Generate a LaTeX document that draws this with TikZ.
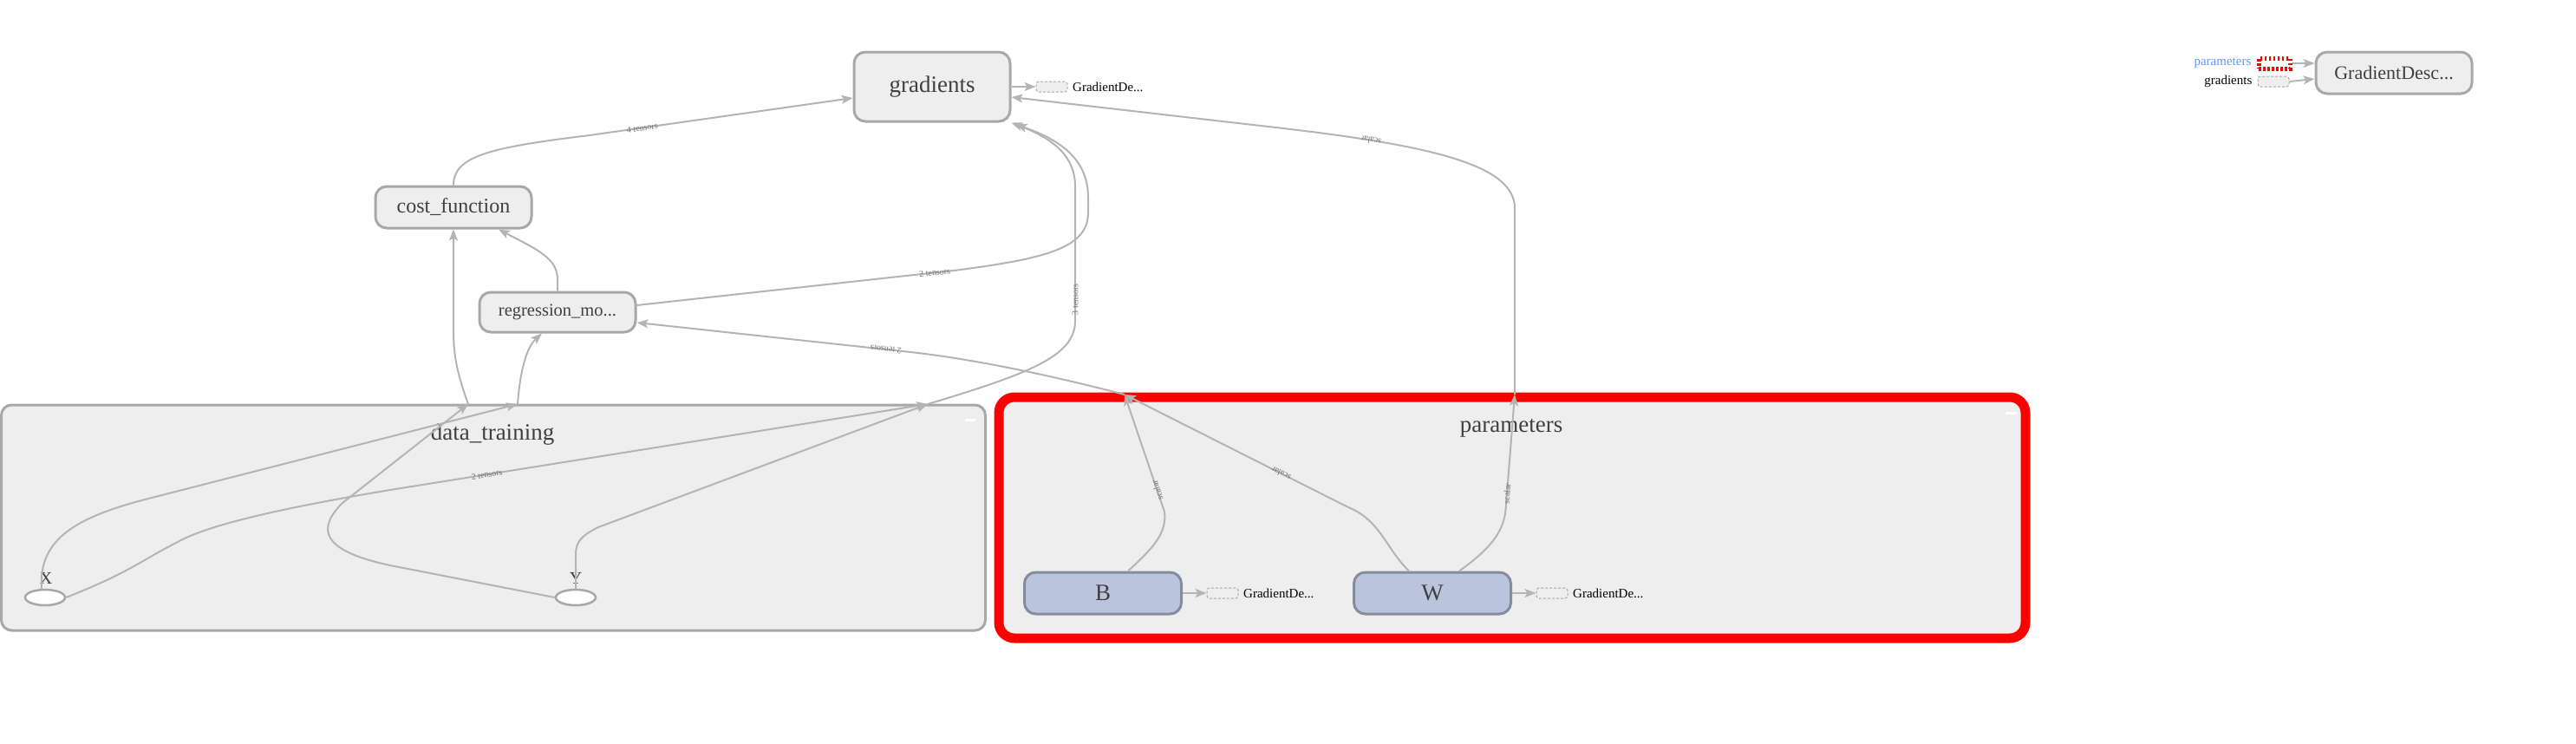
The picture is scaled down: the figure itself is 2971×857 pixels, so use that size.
\documentclass[tikz,border=0pt]{standalone}
\usepackage{fontspec}
\setmainfont{Liberation Serif}
\usetikzlibrary{arrows.meta,shapes.geometric}

\definecolor{edgegray}{HTML}{B4B4B4}
\definecolor{linegray}{HTML}{A8A8A8}
\definecolor{boxgray}{HTML}{EEEEEE}
\definecolor{txtgray}{HTML}{404040}
\definecolor{varfill}{HTML}{BAC5DD}
\definecolor{varline}{HTML}{858D9D}
\definecolor{parblue}{HTML}{6495ED}

\tikzset{
  op/.style={draw=linegray, line width=3pt, fill=boxgray, rounded corners=13pt, inner sep=0pt, text=txtgray},
  var/.style={op, draw=varline, fill=varfill},
  ph/.style={ellipse, draw=linegray, line width=2.5pt, fill=white, minimum width=46pt, minimum height=18pt, inner sep=0pt},
  aux/.style={draw=linegray, line width=1pt, dash pattern=on 3pt off 2pt, fill=boxgray, rounded corners=3pt, minimum width=36pt, minimum height=12pt, inner sep=0pt},
  auxlab/.style={anchor=west, inner sep=0pt, font=\fontsize{15}{15}\selectfont},
  grouplab/.style={anchor=base, inner sep=0pt, text=txtgray, font=\fontsize{27}{27}\selectfont},
  flow/.style={draw=edgegray, line width=2pt, -{Stealth[length=13pt,width=10pt,inset=3pt]}},
  tens/.style={font=\fontsize{10}{10}\selectfont, text=txtgray!75, sloped, allow upside down, inner sep=1pt},
}

\begin{document}
\begin{tikzpicture}[x=1pt,y=-1pt]
%\draw[help lines] (0,0) grid[step=100] (2971,857);
\useasboundingbox (0,0) rectangle (2971,857);

% groups
\node[draw=linegray, line width=3pt, fill=boxgray, rounded corners=12pt, minimum width=1135pt, minimum height=260pt] (dtrain) at (569,597) {};
\node[grouplab] (dtrainlab) at (568,507) {data\_training};
\draw[white, line width=3pt] (1113,484) -- (1125,484);

\node[draw=red, line width=11pt, fill=boxgray, rounded corners=18pt, minimum width=1184pt, minimum height=278pt] (params) at (1744,597) {};
\node[grouplab] (paramslab) at (1743,498) {parameters};
\draw[white, line width=3pt] (2313,476) -- (2326,476);

% ops
\node[op, minimum width=180pt, minimum height=80pt, font=\fontsize{27}{27}\selectfont] (gr) at (1075,100) {gradients};
\node[aux] (grout) at (1213,100) {};
\node[auxlab] (groutlab) at (1237,100) {GradientDe...};
\draw[flow] (gr.east) -- (grout.west);

\node[op, minimum width=180pt, minimum height=48pt, font=\fontsize{24}{24}\selectfont] (cost) at (523,239) {cost\_function};
\node[op, minimum width=180pt, minimum height=46pt, font=\fontsize{20.5}{20.5}\selectfont] (regr) at (643,360) {regression\_mo...};

\node[op, minimum width=180pt, minimum height=48pt, font=\fontsize{22}{22}\selectfont] (gd) at (2761,84) {GradientDesc...};
\node[aux, draw=red, line width=5pt, dash pattern=on 2.5pt off 2.5pt, fill=white, minimum width=36pt, minimum height=12pt, rounded corners=0pt] (gdpar) at (2623,73) {};
\node[anchor=east, inner sep=0pt, text=parblue, font=\fontsize{15}{15}\selectfont, xshift=-6pt] (gdparlab) at (gdpar.west) {parameters};
\node[aux] (gdgr) at (2622,94) {};
\node[anchor=east, inner sep=0pt, font=\fontsize{15}{15}\selectfont, xshift=-6pt] (gdgrlab) at (gdgr.west) {gradients};
\draw[flow] (gdpar.east) -- (gdpar.east -| gd.west);
\draw[flow] (gdgr.east) -- ([yshift=-7pt]gd.west);

% variables
\node[var, minimum width=181pt, minimum height=48pt, font=\fontsize{27}{27}\selectfont] (nb) at (1272,684) {B};
\node[aux] (nbout) at (1410,684) {};
\node[auxlab] (nboutlab) at (1434,684) {GradientDe...};
\draw[flow] (nb.east) -- (nbout.west);

\node[var, minimum width=181pt, minimum height=48pt, font=\fontsize{27}{27}\selectfont] (nw) at (1652,684) {W};
\node[aux] (nwout) at (1790,684) {};
\node[auxlab] (nwoutlab) at (1814,684) {GradientDe...};
\draw[flow] (nw.east) -- (nwout.west);

% placeholders
\node[ph] (nx) at (52,689) {};
\node[anchor=base, inner sep=0pt, text=txtgray, font=\fontsize{20}{20}\selectfont] (nxlab) at (53,673) {X};
\node[ph] (ny) at (664,689) {};
\node[anchor=base, inner sep=0pt, text=txtgray, font=\fontsize{20}{20}\selectfont] (nylab) at (664,673) {Y};

% where edges cross the group borders
\coordinate (dtY) at (540,466);
\coordinate (dtX) at (597,466);
\coordinate (dtG) at (1070,466);
\coordinate (parR) at (1297,455);
\coordinate (parG) at (1747,455);

% inside data_training
\draw[flow] ([xshift=-4pt]nx.north) .. controls (44,620) and (90,595) .. (179,573) -- (dtX);
\draw[flow] (nx.east) .. controls (150,660) and (165,645) .. (205,625) .. controls (240,605) and (330,585) .. (450,565) -- (dtG) node[tens, pos=0.18] {2 tensors};
\draw[flow] (ny.west) -- (450,652) .. controls (370,635) and (365,610) .. (395,580) -- (dtY);
\draw[flow] (ny.north) -- (664,640) .. controls (664,625) and (670,618) .. (690,608) -- (dtG);

% inside parameters
\draw[flow] ([xshift=29pt]nb.north) .. controls (1330,632) and (1346,615) .. (1343,590) -- (parR) node[tens, pos=0.18] {scalar};
\draw[flow] ([xshift=-27pt]nw.north) .. controls (1598,632) and (1592,600) .. (1555,585) -- (parR) node[tens, pos=0.3] {scalar};
\draw[flow] ([xshift=31pt]nw.north) .. controls (1720,632) and (1736,612) .. (1737,582) -- (parG) node[tens, pos=0.1] {scalar};

% between ops
\draw[flow] (cost.north) .. controls (523,180) and (565,170) .. (680,156) -- ([yshift=-13pt]gr.west) node[tens, pos=0.2] {4 tensors};
\draw[flow] (regr.north) -- (643,322) .. controls (643,298) and (620,288) .. ([xshift=52pt]cost.south);
\draw[flow] (dtY) .. controls (527,430) and (523,410) .. (523,380) -- (cost.south);
\draw[flow] (dtX) .. controls (600,425) and (608,400) .. ([xshift=-18pt]regr.south);
\draw[flow] ([yshift=8pt]regr.east) -- (1100,312) node[tens, pos=0.94] {2 tensors} .. controls (1210,298) and (1255,285) .. (1255,245) -- (1255,228) .. controls (1255,185) and (1225,162) .. ([xshift=5pt,yshift=-2pt]gr.south east);
\draw[flow] (dtG) .. controls (1190,430) and (1240,410) .. (1240,370) -- (1240,215) node[tens, pos=0.16] {3 tensors} .. controls (1240,180) and (1215,160) .. (gr.south east);
\draw[flow] (parR) .. controls (1220,435) and (1130,415) .. (1050,406) -- ([yshift=-12pt]regr.east) node[tens, pos=0.09] {2 tensors};
\draw[flow] (parG) -- (1747,240) .. controls (1747,190) and (1650,168) .. (1480,148) node[tens, pos=0.78] {scalar} -- ([yshift=-12pt]gr.east);
\end{tikzpicture}
\end{document}
